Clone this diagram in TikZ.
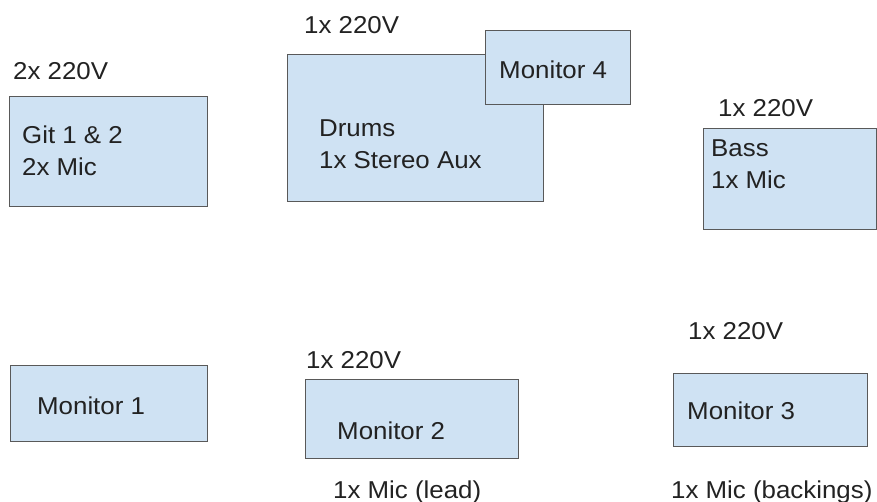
\documentclass[tikz,border=0pt]{standalone}
\usepackage{fontspec}
\setmainfont[FakeStretch=1.06]{Liberation Sans}
\usepackage{tikz}
\definecolor{boxfill}{HTML}{CFE2F3}
\definecolor{boxline}{HTML}{595959}
\definecolor{txtgray}{HTML}{222222}
\tikzstyle{stage}=[draw=boxline, fill=boxfill, line width=1pt, inner sep=0pt, outer sep=0pt, anchor=north west]
\tikzstyle{lbl}=[text=txtgray, inner sep=0pt, anchor=base west, align=left, font=\fontsize{24.4}{32.5}\selectfont]

\begin{document}
\begin{tikzpicture}[x=1pt,y=-1pt]
  \useasboundingbox (0,0) rectangle (877,502);
  % top row
  \node[stage, minimum width=198pt, minimum height=110pt] (git) at (9,97) {};
  \node[stage, minimum width=256pt, minimum height=147pt] (drums) at (287,55) {};
  \node[stage, minimum width=145pt, minimum height=74pt] (mon4) at (485,31) {};
  \node[stage, minimum width=173pt, minimum height=101pt] (bass) at (703,129) {};
  % bottom row
  \node[stage, minimum width=197pt, minimum height=76pt] (mon1) at (10,365) {};
  \node[stage, minimum width=213pt, minimum height=79pt] (mon2) at (305,379) {};
  \node[stage, minimum width=194pt, minimum height=73pt] (mon3) at (673,373) {};

  % texts (base = last line)
  \node[lbl] (gitpow) at (13,80) {2x 220V};
  \node[lbl] (gittxt) at (22,176) {Git 1 \& 2\\2x Mic};
  \node[lbl] (drumspow) at (304,34) {1x 220V};
  \node[lbl] (drumstxt) at (319,169) {Drums\\1x Stereo Aux};
  \node[lbl] (mon4txt) at (499,79) {Monitor 4};
  \node[lbl] (basspow) at (718,117) {1x 220V};
  \node[lbl] (basstxt) at (711,189) {Bass\\1x Mic};

  \node[lbl] (mon1txt) at (37,414) {Monitor 1};
  \node[lbl] (mon2pow) at (306,368) {1x 220V};
  \node[lbl] (mon2txt) at (337,439) {Monitor 2};
  \node[lbl] (mon2mic) at (333,498) {1x Mic (lead)};
  \node[lbl] (mon3pow) at (688,339) {1x 220V};
  \node[lbl] (mon3txt) at (687,419) {Monitor 3};
  \node[lbl] (mon3mic) at (671,498) {1x Mic (backings)};
\end{tikzpicture}
\end{document}
